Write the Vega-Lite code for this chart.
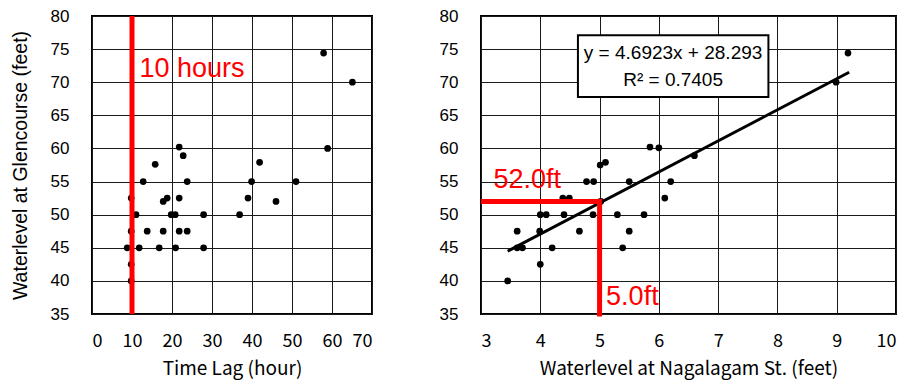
{
  "$schema": "https://vega.github.io/schema/vega-lite/v6.json",
  "background": "white",
  "padding": {"left": 9, "top": 6, "right": 0, "bottom": 5},
  "spacing": 65,
  "config": {
    "view": {"stroke": "#000", "strokeWidth": 2},
    "axis": {
      "grid": true, "gridColor": "#1a1a1a", "gridWidth": 1, "gridOpacity": 1,
      "domain": false, "ticks": false, "labelOverlap": false, "labelBound": false,
      "tickCount": 30,
      "labelColor": "#000", "titleColor": "#000", "titleFontWeight": "normal"
    },
    "axisX": {
      "labelFont": "Noto Sans CJK JP", "labelFontSize": 18, "labelPadding": 18,
      "titleFont": "Noto Sans CJK JP", "titleFontSize": 19, "titlePadding": 9, "format": "d"
    },
    "axisY": {
      "labelFont": "Liberation Sans", "labelFontSize": 17, "labelPadding": 23,
      "titleFont": "Liberation Sans", "titleFontSize": 19.5, "titlePadding": 20
    }
  },
  "datasets": {
    "lag": [
      {"lag": 57.9, "wl": 74.4}, {"lag": 65.1, "wl": 70}, {"lag": 58.9, "wl": 60},
      {"lag": 21.8, "wl": 60.2}, {"lag": 22.8, "wl": 58.9}, {"lag": 15.8, "wl": 57.6},
      {"lag": 41.9, "wl": 57.9}, {"lag": 12.8, "wl": 55}, {"lag": 23.8, "wl": 55},
      {"lag": 39.9, "wl": 55}, {"lag": 51, "wl": 55}, {"lag": 9.8, "wl": 52.5},
      {"lag": 17.8, "wl": 52}, {"lag": 18.8, "wl": 52.5}, {"lag": 21.8, "wl": 52.5},
      {"lag": 39, "wl": 52.5}, {"lag": 46, "wl": 52}, {"lag": 11, "wl": 50},
      {"lag": 19.8, "wl": 50}, {"lag": 20.8, "wl": 50}, {"lag": 27.9, "wl": 50},
      {"lag": 36.9, "wl": 50}, {"lag": 9.8, "wl": 47.5}, {"lag": 13.8, "wl": 47.5},
      {"lag": 17.8, "wl": 47.5}, {"lag": 21.8, "wl": 47.5}, {"lag": 23.8, "wl": 47.5},
      {"lag": 8.8, "wl": 45}, {"lag": 11.8, "wl": 45}, {"lag": 16.8, "wl": 45},
      {"lag": 20.9, "wl": 45}, {"lag": 27.9, "wl": 45}, {"lag": 9.8, "wl": 42.5},
      {"lag": 9.8, "wl": 40}
    ],
    "level": [
      {"ns": 9.19, "wl": 74.4}, {"ns": 8.99, "wl": 70}, {"ns": 5.85, "wl": 60.2},
      {"ns": 6.0, "wl": 60.1}, {"ns": 5.01, "wl": 57.5}, {"ns": 5.1, "wl": 57.9},
      {"ns": 6.6, "wl": 58.9}, {"ns": 4.78, "wl": 55}, {"ns": 4.9, "wl": 55},
      {"ns": 5.5, "wl": 55}, {"ns": 6.2, "wl": 55}, {"ns": 4.38, "wl": 52.5},
      {"ns": 4.49, "wl": 52.5}, {"ns": 5.02, "wl": 52}, {"ns": 6.1, "wl": 52.5},
      {"ns": 4.0, "wl": 50}, {"ns": 4.1, "wl": 50}, {"ns": 4.4, "wl": 50},
      {"ns": 4.89, "wl": 50}, {"ns": 5.3, "wl": 50}, {"ns": 5.75, "wl": 50},
      {"ns": 3.61, "wl": 47.5}, {"ns": 3.99, "wl": 47.5}, {"ns": 4.66, "wl": 47.5},
      {"ns": 5.5, "wl": 47.5}, {"ns": 3.61, "wl": 45}, {"ns": 3.7, "wl": 45},
      {"ns": 4.2, "wl": 45}, {"ns": 5.39, "wl": 45}, {"ns": 4.0, "wl": 42.5},
      {"ns": 3.45, "wl": 40}
    ],
    "trend": [
      {"ns": 3.45, "wl": 44.48}, {"ns": 9.21, "wl": 71.51}
    ]
  },
  "hconcat": [
    {
      "width": 280, "height": 298,
      "layer": [
        {
          "data": {"name": "lag"},
          "mark": {"type": "point", "filled": true, "color": "#000", "size": 45, "opacity": 1},
          "encoding": {
            "x": {"field": "lag", "type": "quantitative",
                  "scale": {"domain": [0, 70], "nice": false, "zero": false},
                  "axis": {"values": [0, 10, 20, 30, 40, 50, 60, 70], "title": "Time Lag (hour)"}},
            "y": {"field": "wl", "type": "quantitative",
                  "scale": {"domain": [35, 80], "nice": false, "zero": false},
                  "axis": {"values": [35, 40, 45, 50, 55, 60, 65, 70, 75, 80], "title": "Waterlevel at Glencourse (feet)"}}
          }
        },
        {
          "data": {"values": [{"x": 10, "ya": 35, "yb": 80}]},
          "mark": {"type": "rule", "color": "#ff0000", "strokeWidth": 5},
          "encoding": {
            "x": {"field": "x", "type": "quantitative"},
            "y": {"field": "ya", "type": "quantitative"},
            "y2": {"field": "yb"}
          }
        },
        {
          "data": {"values": [{"x": 11.85, "y": 70.8, "label": "10 hours"}]},
          "mark": {"type": "text", "align": "left", "baseline": "alphabetic", "font": "Liberation Sans", "fontSize": 27, "color": "#ff0000"},
          "encoding": {
            "x": {"field": "x", "type": "quantitative"},
            "y": {"field": "y", "type": "quantitative"},
            "text": {"field": "label"}
          }
        }
      ]
    },
    {
      "width": 415, "height": 298,
      "layer": [
        {
          "data": {"name": "level"},
          "mark": {"type": "point", "filled": true, "color": "#000", "size": 45, "opacity": 1},
          "encoding": {
            "x": {"field": "ns", "type": "quantitative",
                  "scale": {"domain": [3, 10], "nice": false, "zero": false},
                  "axis": {"values": [3, 4, 5, 6, 7, 8, 9, 10], "title": "Waterlevel at Nagalagam St. (feet)"}},
            "y": {"field": "wl", "type": "quantitative",
                  "scale": {"domain": [35, 80], "nice": false, "zero": false},
                  "axis": {"values": [35, 40, 45, 50, 55, 60, 65, 70, 75, 80], "title": null}}
          }
        },
        {
          "data": {"name": "trend"},
          "mark": {"type": "line", "color": "#000", "strokeWidth": 3},
          "encoding": {
            "x": {"field": "ns", "type": "quantitative"},
            "y": {"field": "wl", "type": "quantitative"}
          }
        },
        {
          "data": {"values": [{"xa": 3, "xb": 5, "y": 52}]},
          "mark": {"type": "rule", "color": "#ff0000", "strokeWidth": 5},
          "encoding": {
            "x": {"field": "xa", "type": "quantitative"},
            "x2": {"field": "xb"},
            "y": {"field": "y", "type": "quantitative"}
          }
        },
        {
          "data": {"values": [{"x": 5, "ya": 35, "yb": 52}]},
          "mark": {"type": "rule", "color": "#ff0000", "strokeWidth": 5, "strokeCap": "square"},
          "encoding": {
            "x": {"field": "x", "type": "quantitative"},
            "y": {"field": "ya", "type": "quantitative"},
            "y2": {"field": "yb"}
          }
        },
        {
          "data": {"values": [{"x": 3.21, "y": 54, "label": "52.0ft"}, {"x": 5.11, "y": 36.35, "label": "5.0ft"}]},
          "mark": {"type": "text", "align": "left", "baseline": "alphabetic", "font": "Liberation Sans", "fontSize": 27, "color": "#ff0000"},
          "encoding": {
            "x": {"field": "x", "type": "quantitative"},
            "y": {"field": "y", "type": "quantitative"},
            "text": {"field": "label"}
          }
        },
        {
          "data": {"values": [{"xa": 4.635, "xb": 7.848, "ya": 67.75, "yb": 77.1}]},
          "mark": {"type": "rect", "fill": "#fff", "stroke": "#000", "strokeWidth": 2},
          "encoding": {
            "x": {"field": "xa", "type": "quantitative"},
            "x2": {"field": "xb"},
            "y": {"field": "ya", "type": "quantitative"},
            "y2": {"field": "yb"}
          }
        },
        {
          "data": {"values": [{"x": 6.24, "y": 73.5, "label": "y = 4.6923x + 28.293"}, {"x": 6.24, "y": 69.5, "label": "R² = 0.7405"}]},
          "mark": {"type": "text", "align": "center", "baseline": "alphabetic", "font": "Liberation Sans", "fontSize": 19, "color": "#000"},
          "encoding": {
            "x": {"field": "x", "type": "quantitative"},
            "y": {"field": "y", "type": "quantitative"},
            "text": {"field": "label"}
          }
        }
      ]
    }
  ]
}
